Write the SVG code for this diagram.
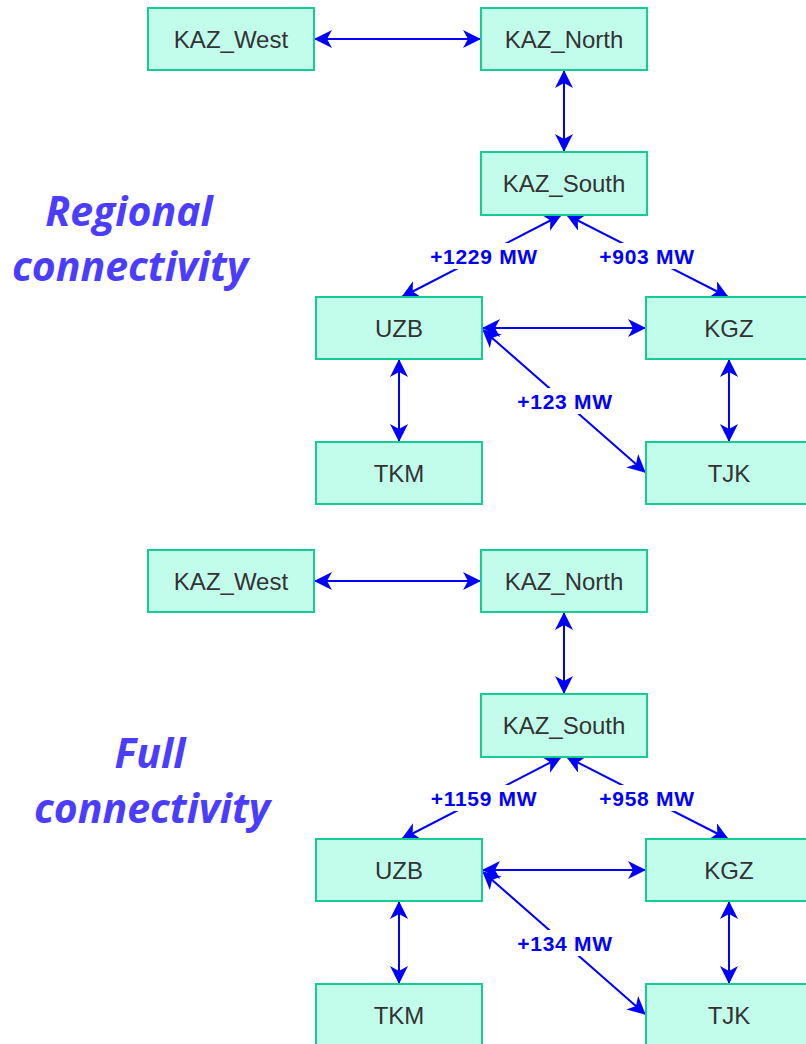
<svg xmlns="http://www.w3.org/2000/svg" width="806" height="1044" viewBox="0 0 806 1044">
<style>
.box{fill:#c2fdec;stroke:#14cc94;stroke-width:2}
.nt{font-family:"Liberation Sans",Arial,sans-serif;font-size:24px;fill:#333333;text-anchor:middle;dominant-baseline:central}
.ln{stroke:#0000ff;stroke-width:2;fill:none}
.lb{font-family:"Liberation Sans",Arial,sans-serif;font-size:21px;font-weight:bold;fill:#0000ff;text-anchor:middle;letter-spacing:0.7px}
.lbg{fill:#ffffff}
.ttl{font-family:"Open Sans",Lato,sans-serif;font-size:41px;font-weight:bold;font-style:italic;fill:#4b3dff;text-anchor:middle}
</style>
<defs>
<marker id="ah" viewBox="0 0 18 18" refX="17" refY="9" markerWidth="18" markerHeight="18" markerUnits="userSpaceOnUse" orient="auto-start-reverse">
<path d="M0,0 L18,9 L0,18 L5,9 Z" fill="#0000ff"/>
</marker>
</defs>
<rect width="806" height="1044" fill="#ffffff"/>

<g id="title-regional">
<text class="ttl" x="129" y="226">Regional</text>
<text class="ttl" x="130" y="281">connectivity</text>
</g>
<g id="title-full">
<text class="ttl" x="150" y="768">Full</text>
<text class="ttl" x="152" y="823">connectivity</text>
</g>

<g id="connectors">
<g id="conn-top">
<line class="ln" x1="315" y1="39" x2="480" y2="39" marker-start="url(#ah)" marker-end="url(#ah)"/>
<line class="ln" x1="564" y1="71" x2="564" y2="151" marker-start="url(#ah)" marker-end="url(#ah)"/>
<line class="ln" x1="561" y1="215" x2="402" y2="297" marker-start="url(#ah)" marker-end="url(#ah)"/>
<line class="ln" x1="567" y1="215" x2="728" y2="297" marker-start="url(#ah)" marker-end="url(#ah)"/>
<line class="ln" x1="483" y1="328" x2="645" y2="328" marker-start="url(#ah)" marker-end="url(#ah)"/>
<line class="ln" x1="399" y1="360" x2="399" y2="441" marker-start="url(#ah)" marker-end="url(#ah)"/>
<line class="ln" x1="729" y1="360" x2="729" y2="441" marker-start="url(#ah)" marker-end="url(#ah)"/>
<line class="ln" x1="483" y1="330" x2="645" y2="472" marker-start="url(#ah)" marker-end="url(#ah)"/>
<rect class="lbg" x="426" y="243" width="116" height="26"/>
<text class="lb" x="484" y="264">+1229 MW</text>
<rect class="lbg" x="595" y="243" width="104" height="26"/>
<text class="lb" x="647" y="264">+903 MW</text>
<rect class="lbg" x="514" y="388" width="102" height="26"/>
<text class="lb" x="565" y="409">+123 MW</text>
</g>
<g id="conn-bottom" transform="translate(0,542)">
<line class="ln" x1="315" y1="39" x2="480" y2="39" marker-start="url(#ah)" marker-end="url(#ah)"/>
<line class="ln" x1="564" y1="71" x2="564" y2="151" marker-start="url(#ah)" marker-end="url(#ah)"/>
<line class="ln" x1="561" y1="215" x2="402" y2="297" marker-start="url(#ah)" marker-end="url(#ah)"/>
<line class="ln" x1="567" y1="215" x2="728" y2="297" marker-start="url(#ah)" marker-end="url(#ah)"/>
<line class="ln" x1="483" y1="328" x2="645" y2="328" marker-start="url(#ah)" marker-end="url(#ah)"/>
<line class="ln" x1="399" y1="360" x2="399" y2="441" marker-start="url(#ah)" marker-end="url(#ah)"/>
<line class="ln" x1="729" y1="360" x2="729" y2="441" marker-start="url(#ah)" marker-end="url(#ah)"/>
<line class="ln" x1="483" y1="330" x2="645" y2="472" marker-start="url(#ah)" marker-end="url(#ah)"/>
<rect class="lbg" x="426" y="243" width="116" height="26"/>
<text class="lb" x="484" y="264">+1159 MW</text>
<rect class="lbg" x="595" y="243" width="104" height="26"/>
<text class="lb" x="647" y="264">+958 MW</text>
<rect class="lbg" x="514" y="388" width="102" height="26"/>
<text class="lb" x="565" y="409">+134 MW</text>
</g>
</g>

<g id="n1-kaz-west"><rect class="box" x="148" y="8" width="166" height="62"/><text class="nt" x="231" y="39">KAZ_West</text></g>
<g id="n1-kaz-north"><rect class="box" x="481" y="8" width="166" height="62"/><text class="nt" x="564" y="39">KAZ_North</text></g>
<g id="n1-kaz-south"><rect class="box" x="481" y="152" width="166" height="63"/><text class="nt" x="564" y="183">KAZ_South</text></g>
<g id="n1-uzb"><rect class="box" x="316" y="297" width="166" height="62"/><text class="nt" x="399" y="328">UZB</text></g>
<g id="n1-kgz"><rect class="box" x="646" y="297" width="166" height="62"/><text class="nt" x="729" y="328">KGZ</text></g>
<g id="n1-tkm"><rect class="box" x="316" y="442" width="166" height="62"/><text class="nt" x="399" y="473">TKM</text></g>
<g id="n1-tjk"><rect class="box" x="646" y="442" width="166" height="62"/><text class="nt" x="729" y="473">TJK</text></g>

<g id="n2-kaz-west"><rect class="box" x="148" y="550" width="166" height="62"/><text class="nt" x="231" y="581">KAZ_West</text></g>
<g id="n2-kaz-north"><rect class="box" x="481" y="550" width="166" height="62"/><text class="nt" x="564" y="581">KAZ_North</text></g>
<g id="n2-kaz-south"><rect class="box" x="481" y="694" width="166" height="63"/><text class="nt" x="564" y="725">KAZ_South</text></g>
<g id="n2-uzb"><rect class="box" x="316" y="839" width="166" height="62"/><text class="nt" x="399" y="870">UZB</text></g>
<g id="n2-kgz"><rect class="box" x="646" y="839" width="166" height="62"/><text class="nt" x="729" y="870">KGZ</text></g>
<g id="n2-tkm"><rect class="box" x="316" y="984" width="166" height="62"/><text class="nt" x="399" y="1015">TKM</text></g>
<g id="n2-tjk"><rect class="box" x="646" y="984" width="166" height="62"/><text class="nt" x="729" y="1015">TJK</text></g>
</svg>
